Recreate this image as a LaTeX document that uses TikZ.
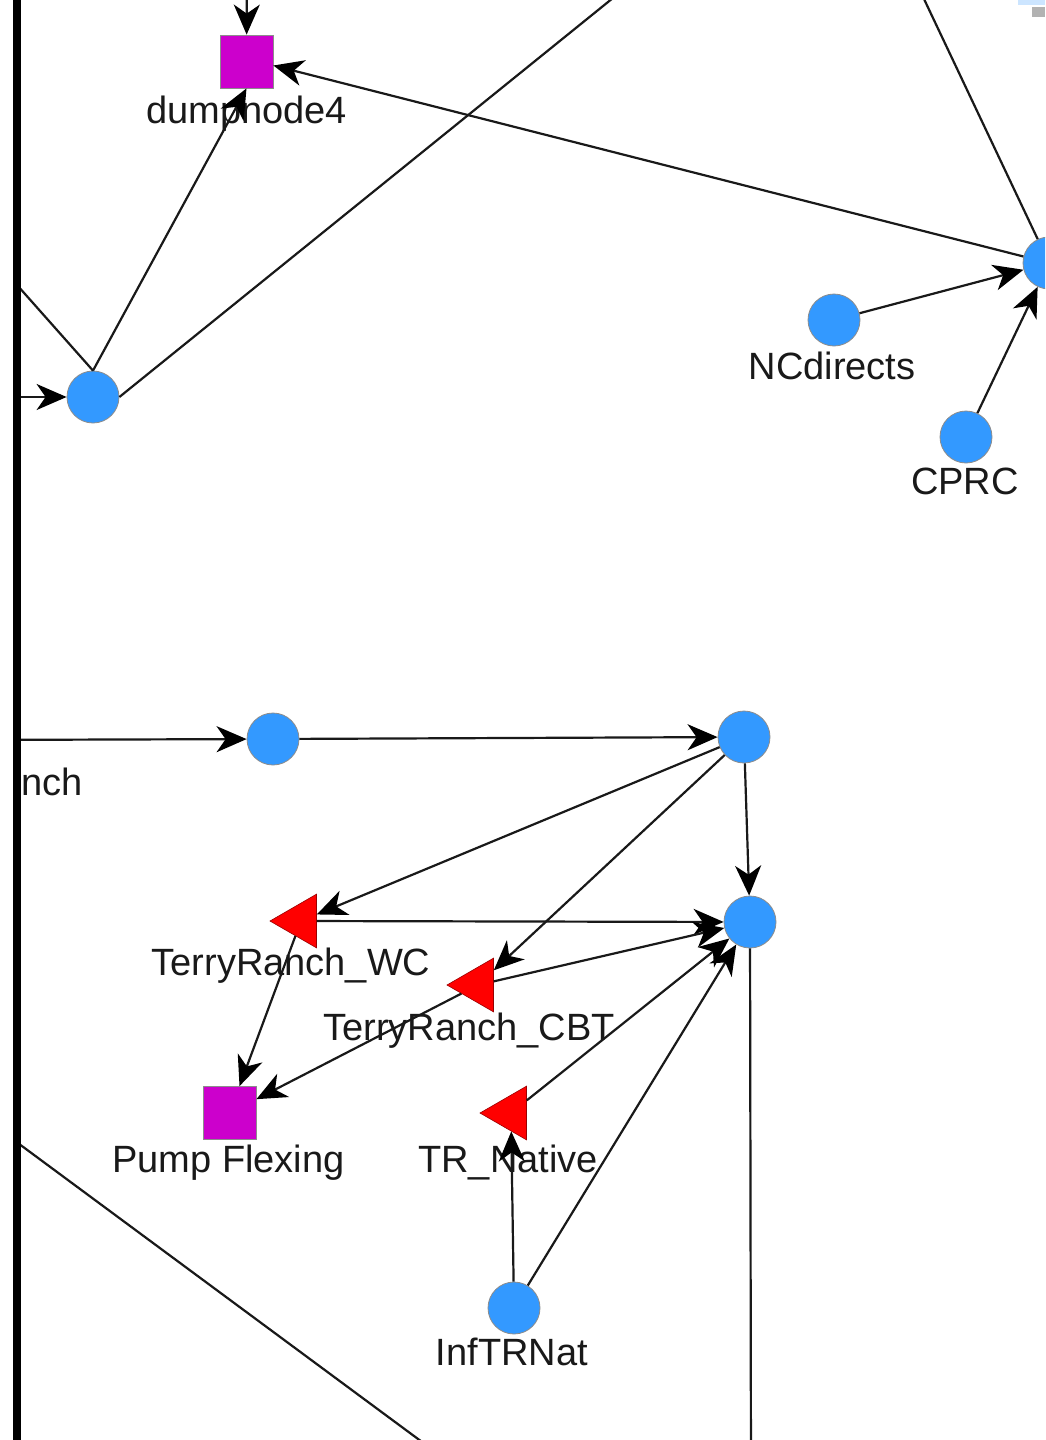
\documentclass[tikz,border=0pt]{standalone}
\usepackage{fontspec}
\setmainfont{Liberation Sans}
\usetikzlibrary{positioning,shapes.geometric,arrows.meta}

\definecolor{junc}{RGB}{51,153,255}
\definecolor{dump}{RGB}{204,0,204}
\definecolor{flow}{RGB}{255,0,0}

\tikzset{
  jnode/.style={circle,fill=junc,draw=black!45,line width=0.8pt,minimum size=52pt,inner sep=0pt},
  dnode/.style={rectangle,fill=dump,draw=black!45,line width=0.8pt,minimum size=53pt,inner sep=0pt},
  fnode/.style={regular polygon,regular polygon sides=3,shape border rotate=90,fill=flow,draw=red!60!black,line width=0.6pt,minimum size=62pt,inner sep=0pt},
  lbl/.style={inner sep=0pt,font=\fontsize{38}{40}\selectfont,text=black!90},
  link/.style={line width=2.2pt,draw=black!90,-{Stealth[length=30pt,width=26pt,inset=9pt,black]}},
  plain/.style={line width=2.2pt,draw=black!90},
}

\begin{document}
\begin{tikzpicture}[x=1pt,y=-1pt]
\fill[white] (0,0) rectangle (1045,1440);
\useasboundingbox (0,0) rectangle (1045,1440);

\begin{scope}
\clip (21,0) rectangle (1045,1440);

% upper part
\node[dnode] (dump4) at (246.5,61.5) {};
\node[jnode] (jA) at (93,397) {};
\node[jnode] (jB) at (1049,263) {};
\node[jnode] (ncdir) at (834,320) {};
\node[jnode] (cprc) at (966,437) {};

\node[lbl,below=34pt of dump4.center] (dump4lbl) {dumpnode4};
\node[lbl,below=32pt of ncdir.center,xshift=-2pt] (ncdirlbl) {NCdirects};
\node[lbl,below=31pt of cprc.center,xshift=-1pt] (cprclbl) {CPRC};

% lower part
\node[jnode] (jC) at (273,739) {};
\node[jnode] (jD) at (744,737) {};
\node[jnode] (jE) at (750,922) {};
\node[fnode] (wc) at (301,921) {};
\node[fnode] (cbt) at (478,985) {};
\node[dnode] (pump) at (229.5,1113) {};
\node[fnode] (trnat) at (511,1113) {};
\node[jnode] (inftr) at (514,1308) {};

\node[lbl,below=27pt of wc.center,xshift=-10pt] (wclbl) {TerryRanch\_WC};
\node[lbl,below=28pt of cbt.center,xshift=-9pt] (cbtlbl) {TerryRanch\_CBT};
\node[lbl,below=32pt of pump.center,xshift=-1pt] (pumplbl) {Pump Flexing};
\node[lbl,below=32pt of trnat.center,xshift=-3pt] (trnatlbl) {TR\_Native};
\node[lbl,below=30pt of inftr.center,xshift=-2pt] (inftrlbl) {InfTRNat};
\node[lbl,anchor=base west] (nchlbl) at (21,795) {nch};

% ends that run off the sheet
\coordinate (topin) at (247,-40);
\coordinate (inA) at (-40,397);
\coordinate (offA1) at (-30,232);
\coordinate (offA2) at (660,-40);
\coordinate (offB) at (915,-20);
\coordinate (inC) at (-40,740);
\coordinate (offE) at (751,1480);
\coordinate (offL) at (-20,1115);
\coordinate (offBot) at (460,1470);

\draw[link] (topin) -- (dump4);
\draw[link] (inA) -- (jA);
\draw[link] (jA.north) -- (dump4.south);
\draw[plain] (jA.north) -- (offA1);
\draw[plain] (jA.east) -- (offA2);
\draw[link] (jB) -- ([yshift=-4pt]dump4.east);
\draw[plain] (jB) -- (offB);
\draw[link] (ncdir) -- (jB);
\draw[link] (cprc) -- (jB);

\draw[link] (inC) -- (jC);
\draw[link] (jC) -- (jD);
\draw[link] (jD) -- (jE);
\draw[link] (jD) -- (wc);
\draw[link] (jD) -- (cbt);
\draw[link] (wc) -- (jE);
\draw[link] (cbt) -- (jE);
\draw[link] (wc) -- (pump);
\draw[link] (cbt) -- (pump);
\draw[link] (trnat) -- (jE);
\draw[link] (inftr) -- (trnat);
\draw[link] (inftr) -- (jE);
\draw[plain] (jE) -- (offE);
\draw[plain] (offL) -- (offBot);

% bits of the window frame
\fill[junc!25] (1018,0) rectangle (1045,5);
\fill[black!30] (1032,7) rectangle (1045,17);
\end{scope}

\fill[black] (13,0) rectangle (21,1440);
\end{tikzpicture}
\end{document}
